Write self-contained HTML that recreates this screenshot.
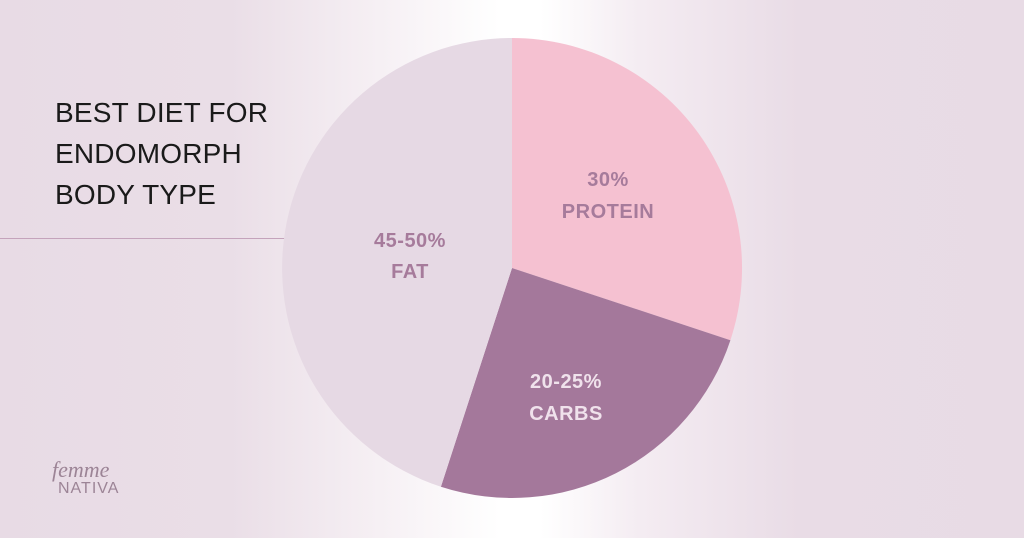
<!DOCTYPE html>
<html><head><meta charset="utf-8"><style>
html,body{margin:0;padding:0}
body{width:1024px;height:538px;overflow:hidden;position:relative;
background:linear-gradient(90deg,#e8dbe5 0px,#eadee7 230px,#f6f0f4 380px,#ffffff 500px,#ffffff 540px,#f4ecf2 640px,#e9dce6 800px,#e8dbe5 1024px);
font-family:"Liberation Sans",sans-serif}
.t{position:absolute;left:55px;top:92px;font-size:28px;line-height:41px;color:#1a1a1a;letter-spacing:0.2px}
.line{position:absolute;left:0;top:238px;width:285px;height:1px;background:#c4a3bb}
svg{position:absolute;left:0;top:0}
</style></head><body>
<div class="t">BEST DIET FOR<br>ENDOMORPH<br>BODY TYPE</div>
<div class="line"></div>
<svg width="1024" height="538">
<path d="M512,268 L512,38 A230,230 0 0 1 730.4,340.2 Z" fill="#f5c1d1"/>
<path d="M512,268 L730.4,340.2 A230,230 0 0 1 440.9,486.7 Z" fill="#a4789b"/>
<path d="M512,268 L440.9,486.7 A230,230 0 0 1 512,38 Z" fill="#e6d9e4"/>
<g font-family="Liberation Sans, sans-serif" font-weight="bold" font-size="20" text-anchor="middle" letter-spacing="0.5">
<text x="608" y="186" fill="#a67b9b">30%</text>
<text x="608" y="218" fill="#a67b9b">PROTEIN</text>
<text x="410" y="247" fill="#a67b9b">45-50%</text>
<text x="410" y="278" fill="#a67b9b">FAT</text>
<text x="566" y="388" fill="#f0e2ec">20-25%</text>
<text x="566" y="420" fill="#f0e2ec">CARBS</text>
</g>
<text x="52" y="477" font-family="Liberation Serif, serif" font-style="italic" font-size="22" fill="#9c8496">femme</text>
<text x="58" y="493" font-family="Liberation Sans, sans-serif" font-size="16" fill="#9c8496" letter-spacing="1">NATIVA</text>
</svg>
</body></html>
